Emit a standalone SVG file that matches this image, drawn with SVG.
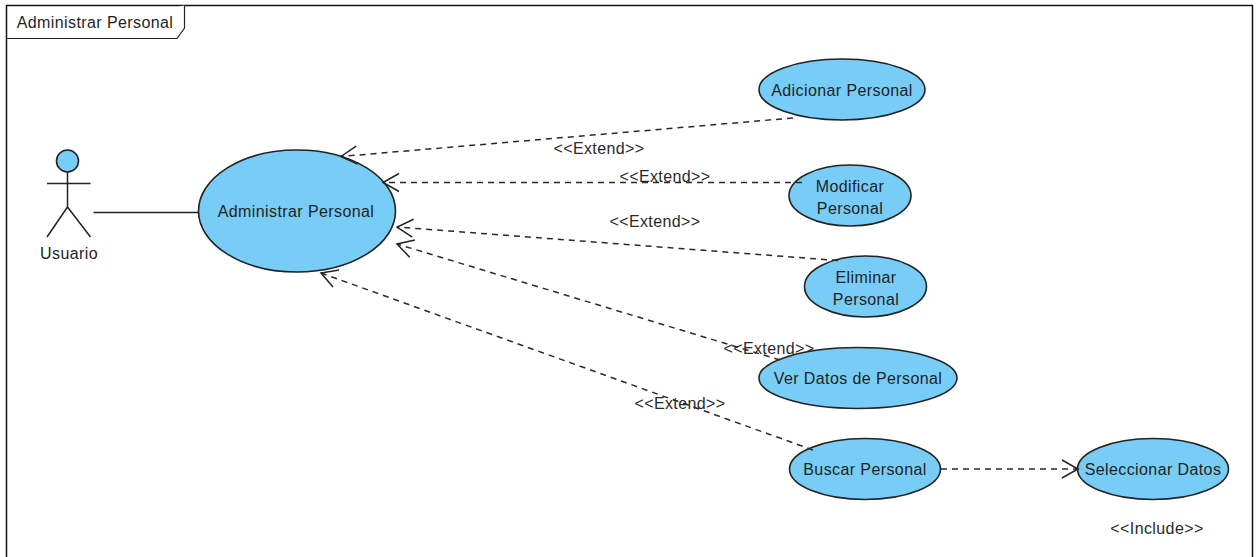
<svg xmlns="http://www.w3.org/2000/svg" width="1256" height="557" viewBox="0 0 1256 557">
<style>
text{font-family:"Liberation Sans",Arial,sans-serif;font-size:16px;letter-spacing:0.4px;fill:#1f1f1f;text-anchor:middle}
.uc{fill:#77cdf5;stroke:#222;stroke-width:1.6}
.ln{fill:none;stroke:#222;stroke-width:1.5}
.dash{fill:none;stroke:#2a2a2a;stroke-width:1.5;stroke-dasharray:6 5;marker-end:url(#open)}
.lbl{fill:#2a2a2a}
</style>
<defs>
<marker id="open" markerUnits="userSpaceOnUse" markerWidth="24" markerHeight="24" refX="20" refY="12" orient="auto"><path d="M4 3L20 12L4 21" fill="none" stroke="#222" stroke-width="1.500"/></marker>
</defs>
<rect width="1256" height="557" fill="#fff"/>
<g id="frame">
<path d="M6.500 557V5.500H1252.500V557" fill="none" stroke="#111" stroke-width="1.500"/>
<path d="M6.500 38.500H177L184.500 28V5.500" fill="#fff" stroke="#222" stroke-width="1.200"/>
<text x="95" y="28">Administrar Personal</text>
</g>
<g id="actor-usuario">
<circle cx="67.500" cy="161" r="11" class="uc"/>
<path class="ln" d="M67.500 172V207M47 183.500H90.500M67.500 207L47 237M67.500 207L90.500 237"/>
<text x="69" y="259">Usuario</text>
</g>
<g id="uc-administrar">
<ellipse class="uc" cx="297" cy="211" rx="98.500" ry="61"/>
<text x="296" y="216.500">Administrar Personal</text>
</g>
<g id="uc-adicionar">
<ellipse class="uc" cx="842" cy="89.500" rx="83" ry="30.500"/>
<text x="842" y="95.500">Adicionar Personal</text>
</g>
<g id="uc-modificar">
<ellipse class="uc" cx="850" cy="195.500" rx="61" ry="30.500"/>
<text x="850" y="191.500">Modificar</text>
<text x="850" y="214">Personal</text>
</g>
<g id="uc-eliminar">
<ellipse class="uc" cx="865.500" cy="286.500" rx="61" ry="30.500"/>
<text x="866" y="283">Eliminar</text>
<text x="866" y="305">Personal</text>
</g>
<g id="uc-ver">
<ellipse class="uc" cx="858" cy="378" rx="99" ry="30.500"/>
<text x="858" y="383.500">Ver Datos de Personal</text>
</g>
<g id="uc-buscar">
<ellipse class="uc" cx="865" cy="469" rx="75.500" ry="30.500"/>
<text x="865" y="475">Buscar Personal</text>
</g>
<g id="uc-seleccionar">
<ellipse class="uc" cx="1153" cy="469" rx="75.500" ry="30.500"/>
<text x="1153" y="475">Seleccionar Datos</text>
</g>
<g id="connectors">
<path class="ln" d="M93.500 212.500H199"/>
<path class="dash" d="M793 118L341 156.500"/>
<path class="dash" d="M802 182.500H383"/>
<path class="dash" d="M838 260.500L397 227"/>
<path class="dash" d="M780 360L397 244"/>
<path class="dash" d="M813 450L321 273"/>
<path class="dash" d="M941 469H1078"/>
<text class="lbl" x="599" y="153.500">&lt;&lt;Extend&gt;&gt;</text>
<text class="lbl" x="665" y="181.500">&lt;&lt;Extend&gt;&gt;</text>
<text class="lbl" x="655" y="226.500">&lt;&lt;Extend&gt;&gt;</text>
<text class="lbl" x="769" y="353.500">&lt;&lt;Extend&gt;&gt;</text>
<text class="lbl" x="680" y="408.500">&lt;&lt;Extend&gt;&gt;</text>
<text class="lbl" x="1157" y="534">&lt;&lt;Include&gt;&gt;</text>
</g>
</svg>
